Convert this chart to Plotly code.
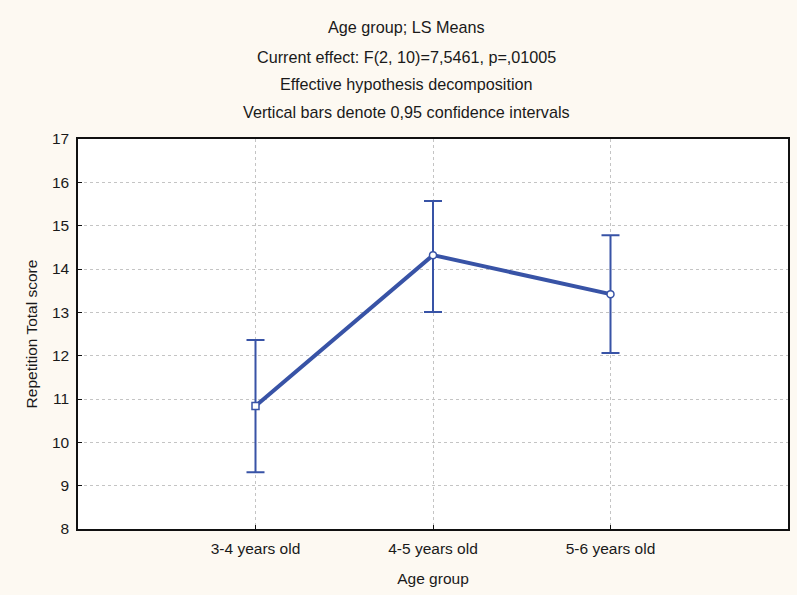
import plotly.graph_objects as go

# LS means of the repetition score by age group, with 95% confidence limits
age_groups = ["3-4 years old", "4-5 years old", "5-6 years old"]
ls_means = [10.84, 14.32, 13.42]
ci_upper = [12.36, 15.57, 14.78]
ci_lower = [9.31, 13.01, 12.06]
marker_symbols = ["square", "circle", "circle"]

y_ticks = list(range(8, 18))

blue = "#3853a6"
font_family = "Liberation Sans, Arial, sans-serif"
text_color = "#1a1a1a"
font_size = 15.5
title_size = 16.2

fig = go.Figure()

fig.add_trace(go.Scatter(
    x=age_groups,
    y=ls_means,
    mode="lines+markers",
    line=dict(color=blue, width=4),
    marker=dict(symbol=marker_symbols, size=7, color="white",
                line=dict(color=blue, width=1.5)),
    error_y=dict(
        type="data",
        symmetric=False,
        array=[u - m for u, m in zip(ci_upper, ls_means)],
        arrayminus=[m - l for m, l in zip(ls_means, ci_lower)],
        color=blue,
        thickness=2,
        width=9,
    ),
    showlegend=False,
))

title_lines = [
    "Age group; LS Means",
    "Current effect: F(2, 10)=7,5461, p=,01005",
    "Effective hypothesis decomposition",
    "Vertical bars denote 0,95 confidence intervals",
]
title_y = [1.287, 1.210, 1.141, 1.069]
for txt, yy in zip(title_lines, title_y):
    fig.add_annotation(text=txt, x=0.4626, y=yy, xref="paper", yref="paper",
                       xanchor="center", yanchor="middle", showarrow=False,
                       font=dict(size=title_size, color=text_color, family=font_family))

fig.update_xaxes(
    type="category",
    range=[-1, 3],
    showline=True, linecolor="#111111", linewidth=1.5, mirror=True,
    ticks="inside", ticklen=4, tickcolor="#111111",
    showgrid=True, gridcolor="#c4c4c4", griddash="dot", gridwidth=1,
    tickfont=dict(size=font_size, color=text_color, family=font_family),
    ticklabelstandoff=5,
    title=dict(text="Age group", standoff=17,
               font=dict(size=font_size, color=text_color, family=font_family)),
    zeroline=False,
)
fig.update_yaxes(
    range=[8, 17],
    tickvals=y_ticks,
    showline=True, linecolor="#111111", linewidth=1.5, mirror=True,
    ticks="inside", ticklen=4, tickcolor="#111111",
    showgrid=True, gridcolor="#c4c4c4", griddash="dot", gridwidth=1,
    tickfont=dict(size=font_size, color=text_color, family=font_family),
    ticklabelstandoff=4,
    title=dict(text="Repetition Total score", standoff=10,
               font=dict(size=font_size, color=text_color, family=font_family)),
    zeroline=False,
)

fig.update_layout(
    width=797, height=595,
    margin=dict(l=78, r=7, t=139, b=66),
    paper_bgcolor="#fdf9f2",
    plot_bgcolor="white",
    font=dict(family=font_family, color=text_color),
)

fig.write_html("out.html")
